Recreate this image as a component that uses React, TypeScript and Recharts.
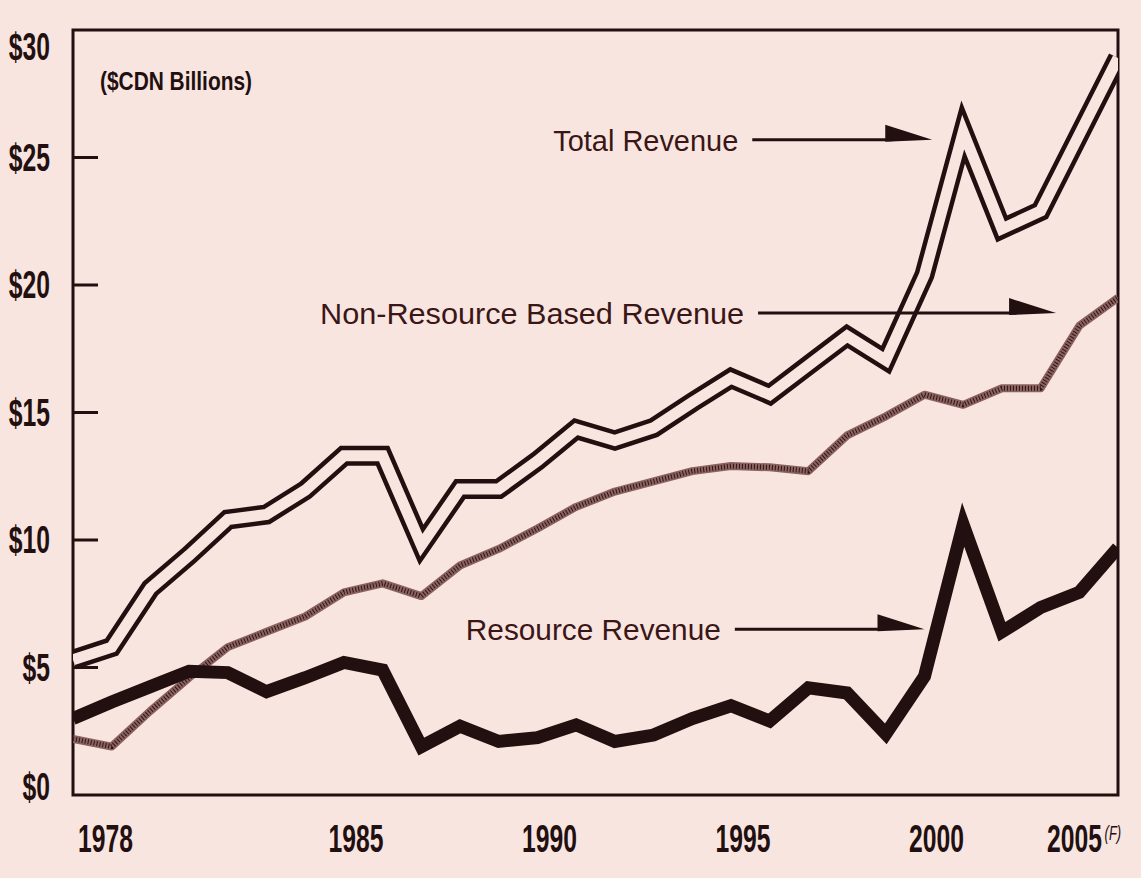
import { LineChart, Line, XAxis, YAxis, ReferenceArea, ReferenceLine } from 'recharts'

// Annual revenue, $CDN billions (2005 is a forecast)
const years = [
  1978, 1979, 1980, 1981, 1982, 1983, 1984, 1985, 1986, 1987,
  1988, 1989, 1990, 1991, 1992, 1993, 1994, 1995, 1996, 1997,
  1998, 1999, 2000, 2001, 2002, 2003, 2004, 2005,
]
const totalRevenue = [
  5.3, 5.8, 8.1, 9.4, 10.8, 11.0, 11.95, 13.3, 13.3, 9.8,
  12.0, 12.0, 13.1, 14.35, 13.9, 14.4, 15.4, 16.35, 15.7, 16.85,
  18.0, 17.05, 20.4, 26.0, 22.2, 22.9, 25.9, 28.9,
]
const nonResourceRevenue = [
  2.2, 1.9, 3.3, 4.6, 5.8, 6.4, 7.0, 7.95, 8.3, 7.8,
  9.0, 9.65, 10.45, 11.3, 11.9, 12.3, 12.7, 12.9, 12.85, 12.7,
  14.1, 14.85, 15.7, 15.3, 15.95, 15.95, 18.4, 19.5,
]
const resourceRevenue = [
  3.0, 3.65, 4.25, 4.85, 4.8, 4.05, 4.6, 5.2, 4.9, 1.9,
  2.7, 2.1, 2.25, 2.75, 2.1, 2.35, 3.0, 3.5, 2.9, 4.2,
  4.0, 2.4, 4.65, 10.6, 6.4, 7.35, 7.95, 9.7,
]
const xTicks = [1978, 1985, 1990, 1995, 2000, 2005]
const yTicks = [0, 5, 10, 15, 20, 25, 30]

const data = years.map((year, i) => ({
  year,
  total: totalRevenue[i],
  nonResource: nonResourceRevenue[i],
  resource: resourceRevenue[i],
}))

const BG = '#f9e5e0'
const INK = '#221010'
const PLOT_TOP = 30
const PLOT_BOTTOM = 795
const FONT = "'Liberation Sans', Arial, sans-serif"

function YTick({ x, y, payload }: any) {
  const ly = Math.min(Math.max(y, PLOT_TOP + 17), PLOT_BOTTOM - 8)
  const inner = payload.value > 0 && payload.value < 30
  return (
    <g>
      {inner && <line x1={x} x2={x + 25} y1={y} y2={y} stroke={INK} strokeWidth={3} />}
      <g transform={`translate(${x - 23},${ly + 13}) scale(0.65,1)`}>
        <text x={0} y={0} textAnchor="end" fontSize={38} fontWeight={700} fill={INK} fontFamily={FONT}>
          ${payload.value}
        </text>
      </g>
    </g>
  )
}

function XTick({ x, y, payload, index }: any) {
  const first = index === 0
  const last = payload.value === 2005
  const anchor = first ? 'start' : last ? 'end' : 'middle'
  const tx = first ? x + 5 : last ? x - 16 : x + 12
  return (
    <g transform={`translate(${tx},${y + 57}) scale(0.65,1)`}>
      <text x={0} y={0} textAnchor={anchor} fontSize={38} fontWeight={700} fill={INK} fontFamily={FONT}>
        {payload.value}
      </text>
      {last && (
        <text x={4} y={-12} fontSize={20} fontStyle="italic" fill={INK} fontFamily={FONT}>(F)</text>
      )}
    </g>
  )
}

const arrow = (label: string, width: number) => (p: any) => {
  const { x1, y1, x2 } = p
  return (
    <g>
      <text x={x1 - 14} y={y1 + 11} textAnchor="end" fontSize={30} fill="#3a1616"
        textLength={width} lengthAdjust="spacingAndGlyphs" fontFamily={FONT}>
        {label}
      </text>
      <line x1={x1} x2={x2 - 40} y1={y1} y2={y1} stroke={INK} strokeWidth={3} />
      <polygon points={`${x2},${y1} ${x2 - 47},${y1 - 15} ${x2 - 47},${y1 + 2}`} fill={INK} />
    </g>
  )
}

export default function App() {
  return (
    <div style={{ position: 'absolute', left: 0, top: 0, width: 1141, height: 878, background: BG }}>
      <LineChart width={1141} height={878} data={data}
        margin={{ top: PLOT_TOP, right: 23, bottom: 23, left: 13 }}>
        <XAxis dataKey="year" type="number" domain={[1978, 2005]} ticks={xTicks} allowDataOverflow
          axisLine={false} tickLine={false} tickSize={0} tickMargin={0} height={60}
          tick={<XTick />} interval={0} />
        <YAxis type="number" domain={[0, 30]} ticks={yTicks} axisLine={false} tickLine={false}
          tickSize={0} tickMargin={0} width={60} tick={<YTick />} interval={0} />

        <Line dataKey="nonResource" stroke="#8a6361" strokeWidth={8} dot={false}
          isAnimationActive={false} strokeLinejoin="round" />
        <Line dataKey="nonResource" stroke="#2e1414" strokeWidth={5} strokeDasharray="1 2"
          dot={false} isAnimationActive={false} strokeLinejoin="round" />

        <Line dataKey="total" stroke={INK} strokeWidth={20} dot={false}
          isAnimationActive={false} strokeLinejoin="miter" strokeMiterlimit={10} />
        <Line dataKey="total" stroke={BG} strokeWidth={11} dot={false}
          isAnimationActive={false} strokeLinejoin="miter" strokeMiterlimit={10} />

        <Line dataKey="resource" stroke={INK} strokeWidth={13} dot={false}
          isAnimationActive={false} strokeLinejoin="miter" strokeMiterlimit={10} />

        <ReferenceArea x1={1978} x2={2005} y1={0} y2={30} fill="none" fillOpacity={0}
          stroke={INK} strokeWidth={3} />

        <ReferenceLine segment={[{ x: 1995.55, y: 25.7 }, { x: 2000.2, y: 25.7 }]}
          shape={arrow('Total Revenue', 185)} />
        <ReferenceLine segment={[{ x: 1995.7, y: 18.9 }, { x: 2003.4, y: 18.9 }]}
          shape={arrow('Non-Resource Based Revenue', 424)} />
        <ReferenceLine segment={[{ x: 1995.1, y: 6.5 }, { x: 2000.0, y: 6.5 }]}
          shape={arrow('Resource Revenue', 255)} />

        <text x={100} y={90} textLength={152} lengthAdjust="spacingAndGlyphs" fontSize={26}
          fontWeight={700} fill={INK} fontFamily={FONT}>
          ($CDN Billions)
        </text>
      </LineChart>
    </div>
  )
}
